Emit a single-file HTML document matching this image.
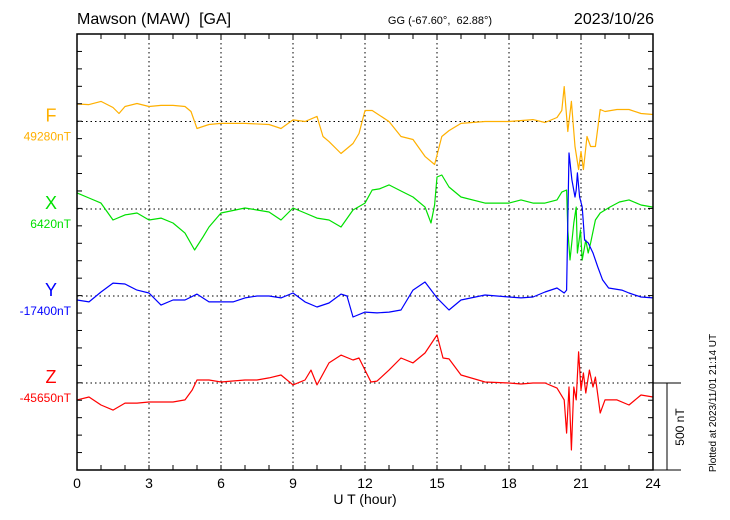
<!DOCTYPE html>
<html><head><meta charset="utf-8"><style>
body{margin:0;background:#fff;width:730px;height:520px;overflow:hidden}
svg{display:block;font-family:"Liberation Sans",sans-serif}
</style></head><body>
<svg id="chart" width="730" height="520" viewBox="0 0 730 520">
<text x="77" y="24" font-size="16">Mawson (MAW)&#160; [GA]</text>
<text x="440" y="24" font-size="11" text-anchor="middle">GG (-67.60°,&#160; 62.88°)</text>
<text x="654" y="24" font-size="16" text-anchor="end">2023/10/26</text>
<g id="grid"></g>
<g id="series"></g>
<g id="axes"></g>
<text x="365" y="504" font-size="14" text-anchor="middle">U T (hour)</text>
<text x="684" y="427" font-size="12" text-anchor="middle" transform="rotate(-90 684 427)">500 nT</text>
<text x="716" y="403" font-size="10" text-anchor="middle" transform="rotate(-90 716 403)">Plotted at 2023/11/01 21:14 UT</text>
</svg>
<script>
const xTicks = [0,3,6,9,12,15,18,21,24];
const seriesNames = ["F","X","Y","Z"];
const seriesBaselines = ["49280nT","6420nT","-17400nT","-45650nT"];
const fTimes = [0,0.5,1,1.5,1.75,2,2.5,3,3.5,4,4.5,4.75,5,5.5,6,7,8,8.5,9,9.5,10,10.25,10.5,11,11.5,11.75,12,12.3,13,13.5,14,14.5,14.9,15.2,15.5,16,17,18,19,19.5,20,20.2,20.3,20.45,20.6,20.75,20.9,21,21.1,21.25,21.4,21.6,21.8,22,22.5,23,23.5,24];
const fValues = [100,97,115,80,46,86,103,86,92,92,86,57,-40,-17,-11,-11,-17,-40,9,0,29,-86,-115,-183,-126,-69,63,63,0,-86,-103,-200,-246,-86,-52,-11,0,0,11,-6,23,63,200,-57,115,-143,-275,-172,-275,-86,-143,-143,69,57,69,69,46,40];
const xTimes = [0,0.5,1,1.5,2,2.5,3,3.5,4,4.5,4.9,5.25,5.5,6,7,8,8.5,9,9.5,10,10.5,11,11.5,12,12.3,12.6,13,13.5,14,14.5,14.75,14.9,15,15.2,15.5,16,17,18,18.5,19,19.5,20,20.2,20.4,20.45,20.54,20.7,20.8,20.85,20.98,21.05,21.2,21.3,21.4,21.6,21.8,22.2,22.6,23,23.5,24];
const xValues = [92,63,34,-63,-34,-23,-63,-52,-80,-138,-235,-160,-103,-23,6,-17,-63,6,-23,-52,-63,-103,-6,34,109,115,138,103,69,11,-80,23,183,195,126,69,34,34,52,34,34,52,97,109,-120,-292,-80,11,-252,-120,-292,-178,-252,-195,-63,-23,11,40,52,23,11];
const yTimes = [0,0.5,1,1.5,2,2.5,3,3.5,4,4.5,5,5.5,6,6.5,7,7.5,8,8.5,9,9.5,10,10.5,11,11.25,11.5,12,12.5,13,13.5,14,14.5,15,15.5,16,17,18,18.5,19,19.5,20,20.3,20.4,20.5,20.62,20.75,20.8,20.85,20.94,21.05,21.15,21.3,21.5,21.7,21.9,22.15,22.7,23,23.5,24];
const yValues = [-23,-34,23,74,69,34,17,-52,-23,-23,11,-34,-34,-34,-11,0,0,-11,17,-34,-63,-40,11,0,-120,-92,-97,-92,-80,34,80,-11,-80,-23,6,-6,-11,-6,23,46,17,34,819,665,567,607,705,567,510,321,304,246,166,92,46,34,17,-6,-11];
const zTimes = [0,0.5,1,1.5,2,2.5,3,3.5,4,4.5,4.8,5,5.5,6,7,7.5,8,8.5,9,9.5,9.75,10,10.5,11,11.5,11.75,12,12.25,12.5,13,13.5,14,14.5,15,15.25,15.5,16,17,18,18.5,19,19.5,20,20.3,20.4,20.5,20.6,20.7,20.8,20.9,21,21.1,21.2,21.35,21.5,21.6,21.8,22,22.5,23,23.5,24];
const zValues = [-97,-80,-126,-155,-115,-115,-109,-109,-109,-97,-40,17,17,6,17,17,29,46,-11,17,74,-11,115,160,132,143,74,6,11,74,143,115,172,275,143,138,46,6,0,-6,0,0,-29,-97,-287,-23,-384,-23,-97,178,-40,57,-57,74,-23,34,-172,-97,-97,-126,-69,-80];

const NS="http://www.w3.org/2000/svg";
const L=77,R=653,T=34,B=470;
const baseY=[121.5,209,296,383];
const colors=["#ffb000","#00e000","#0000ff","#ff0000"];
const pxPerNT=87.3/500;
function sx(h){return L+(R-L)*h/24;}
function sy(i,v){return baseY[i]-v*pxPerNT;}
function mk(tag,attrs,parent){const e=document.createElementNS(NS,tag);for(const k in attrs)e.setAttribute(k,attrs[k]);parent.appendChild(e);return e;}
const grid=document.getElementById('grid'),axes=document.getElementById('axes'),ser=document.getElementById('series'),svg=document.getElementById('chart');
xTicks.slice(1,-1).forEach(h=>{
  const g=mk('line',{x1:sx(h),x2:sx(h),y1:T,y2:B,stroke:'#000','stroke-width':1,'stroke-dasharray':'1.5,3'},grid);
  
  
});
baseY.forEach((y,i)=>{
  const g=mk('line',{x1:L,x2:R,y1:y,y2:y,stroke:'#000','stroke-width':1,'stroke-dasharray':'1.5,3'},grid);
  
  
});
const fr=mk('rect',{x:L,y:T,width:R-L,height:B-T,fill:'none',stroke:'#000','stroke-width':1.5},axes);


for(let h=0;h<=24;h++){
  const x=sx(h);
  const a=mk('line',{x1:x,x2:x,y1:B,y2:B-5,stroke:'#000'},axes);
  
  
  const b=mk('line',{x1:x,x2:x,y1:T,y2:T+5,stroke:'#000'},axes);
  
  
}
for(let k=0;k<=25;k++){
  const y=T+(B-T)*k/25;
  const a=mk('line',{x1:L,x2:L+5,y1:y,y2:y,stroke:'#000'},axes);
  
  
  const b=mk('line',{x1:R-5,x2:R,y1:y,y2:y,stroke:'#000'},axes);
  
  
}
xTicks.forEach(h=>{
  const t=mk('text',{x:sx(h),y:488,'font-size':14,'text-anchor':'middle'},axes);
  t.textContent=h;
  
  
});
const sb1=mk('line',{x1:R,x2:681,y1:383,y2:383,stroke:'#000'},axes);


const sb2=mk('line',{x1:667,x2:667,y1:383,y2:B,stroke:'#000'},axes);


const sb3=mk('line',{x1:R,x2:681,y1:B,y2:B,stroke:'#000'},axes);


const allT=[fTimes,xTimes,yTimes,zTimes],allV=[fValues,xValues,yValues,zValues];
seriesNames.forEach((n,i)=>{
  const pts=allT[i].map((t,j)=>sx(t).toFixed(1)+','+sy(i,allV[i][j]).toFixed(1)).join(' ');
  const p=mk('polyline',{points:pts,fill:'none',stroke:colors[i],'stroke-width':1.2,'stroke-linejoin':'round'},ser);
  
  
  const t=mk('text',{x:51,y:baseY[i],'font-size':18,fill:colors[i],'text-anchor':'middle'},svg);
  t.textContent=n;
  
  
  const b=mk('text',{x:71,y:baseY[i]+19,'font-size':12,fill:colors[i],'text-anchor':'end'},svg);
  b.textContent=seriesBaselines[i];
  
  
});
</script>
</body></html>
